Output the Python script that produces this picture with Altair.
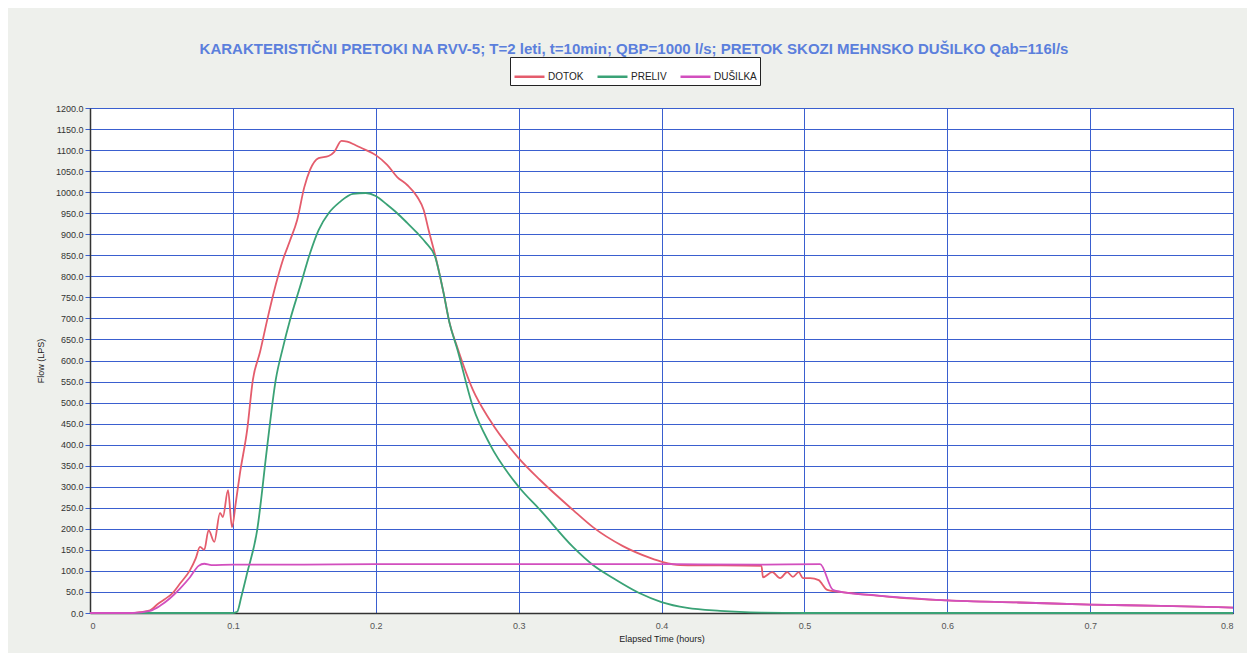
import altair as alt
import pandas as pd

TITLE = "KARAKTERISTIČNI PRETOKI NA RVV-5; T=2 leti, t=10min; QBP=1000 l/s; PRETOK SKOZI MEHNSKO DUŠILKO Qab=116l/s"
SERIES = ["DOTOK", "PRELIV", "DUŠILKA"]
COLORS = ["#e45c6c", "#3aa276", "#d24fbe"]

dotok_t = [0, 0.03, 0.035, 0.042, 0.047, 0.052, 0.058, 0.063, 0.07, 0.074, 0.077, 0.080, 0.083,
           0.087, 0.091, 0.093, 0.0966, 0.0994, 0.102, 0.105, 0.110, 0.114, 0.119, 0.124, 0.130,
           0.135, 0.140, 0.145, 0.150, 0.154, 0.160, 0.167, 0.171, 0.176, 0.180, 0.1856, 0.190,
           0.200, 0.208, 0.215, 0.222, 0.229, 0.2335, 0.237, 0.2416, 0.2475, 0.2516, 0.257,
           0.268, 0.280, 0.300, 0.315, 0.338, 0.352, 0.373, 0.392, 0.401, 0.413, 0.47, 0.471,
           0.4775, 0.483, 0.488, 0.492, 0.496, 0.499, 0.504, 0.510, 0.516, 0.525, 0.545, 0.567,
           0.6, 0.65, 0.7, 0.75, 0.8]
dotok_q = [0, 0, 2, 6, 20, 32, 48, 70, 102, 130, 157, 150, 197,
           169, 238, 228, 292, 204, 261, 333, 435, 554, 620, 696, 780,
           839, 885, 934, 1012, 1053, 1081, 1086, 1096, 1122, 1120, 1112, 1105,
           1088, 1065, 1036, 1017, 989, 958, 910, 850, 760, 690, 632,
           530, 458, 368, 316, 245, 204, 159, 131, 121, 114, 112, 85,
           97, 83, 97, 86, 97, 83, 83, 78, 55, 50, 43, 36,
           30, 25, 20, 17, 13]

preliv_t = [0, 0.1, 0.103, 0.106, 0.11, 0.117, 0.124, 0.13, 0.135, 0.14, 0.147, 0.154, 0.160,
            0.167, 0.175, 0.184, 0.193, 0.2, 0.208, 0.215, 0.222, 0.229, 0.235, 0.2416, 0.2475,
            0.2516, 0.257, 0.268, 0.28, 0.3, 0.315, 0.338, 0.352, 0.366, 0.384, 0.4, 0.418, 0.441,
            0.47, 0.5, 0.8]
preliv_q = [0, 0, 3, 40, 95, 197, 395, 554, 630, 696, 775, 855, 910,
            950, 977, 996, 998, 991, 970, 950, 927, 903, 880, 846, 760,
            690, 628, 490, 400, 300, 245, 157, 114, 83, 48, 26, 12, 5,
            1, 0, 0]

dusilka_t = [0, 0.03, 0.042, 0.049, 0.056, 0.063, 0.07, 0.076, 0.08, 0.085, 0.1, 0.15, 0.2,
             0.3, 0.4, 0.47, 0.511, 0.52, 0.53, 0.55, 0.6, 0.65, 0.7, 0.75, 0.8]
dusilka_q = [0, 0, 5, 17, 35, 58, 85, 112, 117, 114, 115, 115, 116,
             116, 116, 115, 116, 55, 48, 42, 30, 25, 20, 17, 13]

x_ticks = [0, 0.1, 0.2, 0.3, 0.4, 0.5, 0.6, 0.7, 0.8]
y_ticks = list(range(0, 1201, 50))

rows = []
for name, ts, qs in [("DOTOK", dotok_t, dotok_q), ("PRELIV", preliv_t, preliv_q),
                     ("DUŠILKA", dusilka_t, dusilka_q)]:
    for i, (t, q) in enumerate(zip(ts, qs)):
        rows.append({"series": name, "t": t, "q": q, "order": i})
df = pd.DataFrame(rows)

font = "Liberation Sans"
narrow = "Liberation Sans Narrow, Liberation Sans"

lines = alt.Chart(df).mark_line(strokeWidth=1.8, interpolate="monotone").encode(
    x=alt.X("t:Q", scale=alt.Scale(domain=[0, 0.8], nice=False),
            axis=alt.Axis(values=x_ticks, title="Elapsed Time (hours)",
                          labelExpr="datum.value == 0 ? '0' : format(datum.value, '.1f')",
                          grid=True, gridColor="#3a5fcf", gridWidth=1, gridOpacity=1,
                          ticks=False, labelPadding=8, labelFontSize=9, labelColor="#555",
                          labelFont=font, titleFont=font, titleFontSize=9, titleFontWeight="normal",
                          titleColor="#222", titlePadding=4, domainColor="#333", domainWidth=1.5)),
    y=alt.Y("q:Q", scale=alt.Scale(domain=[0, 1200], nice=False),
            axis=alt.Axis(values=y_ticks, title="Flow (LPS)", format=".1f",
                          grid=True, gridColor="#3a5fcf", gridWidth=1, gridOpacity=1,
                          tickSize=5, tickColor="#3a5fcf", labelPadding=2, labelFontSize=9,
                          labelColor="#333", labelFont=font, titleFont=font, titleFontSize=9,
                          titleFontWeight="normal", titleColor="#222", titlePadding=10,
                          domainColor="#333", domainWidth=1.5)),
    color=alt.Color("series:N", scale=alt.Scale(domain=SERIES, range=COLORS),
                    legend=alt.Legend(title=None, orient="none", legendX=420, legendY=-51,
                                      direction="horizontal", symbolType="stroke",
                                      symbolSize=900, symbolStrokeWidth=2.5,
                                      labelFontSize=10, labelFont=narrow, labelColor="#222",
                                      fillColor="white", strokeColor="#222", padding=3,
                                      columnPadding=8, labelOffset=2)),
    order="order:Q",
)

title = alt.Chart(pd.DataFrame({"label": [TITLE]})).mark_text(
    fontSize=15, font=font, fontWeight="bold", color="#5b7fdc", align="center", baseline="alphabetic"
).encode(text="label:N", x=alt.value(544), y=alt.value(-54))

chart = alt.layer(lines, title).properties(
    width=1143, height=505,
    padding={"left": 82, "top": 100, "right": 14, "bottom": 40},
    autosize=alt.AutoSizeParams(type="none"),
    background="#eef0ec",
).configure_view(fill="white", stroke="#333", strokeWidth=1)

chart.save("out.html", embed_options={"renderer": "svg", "actions": False})
